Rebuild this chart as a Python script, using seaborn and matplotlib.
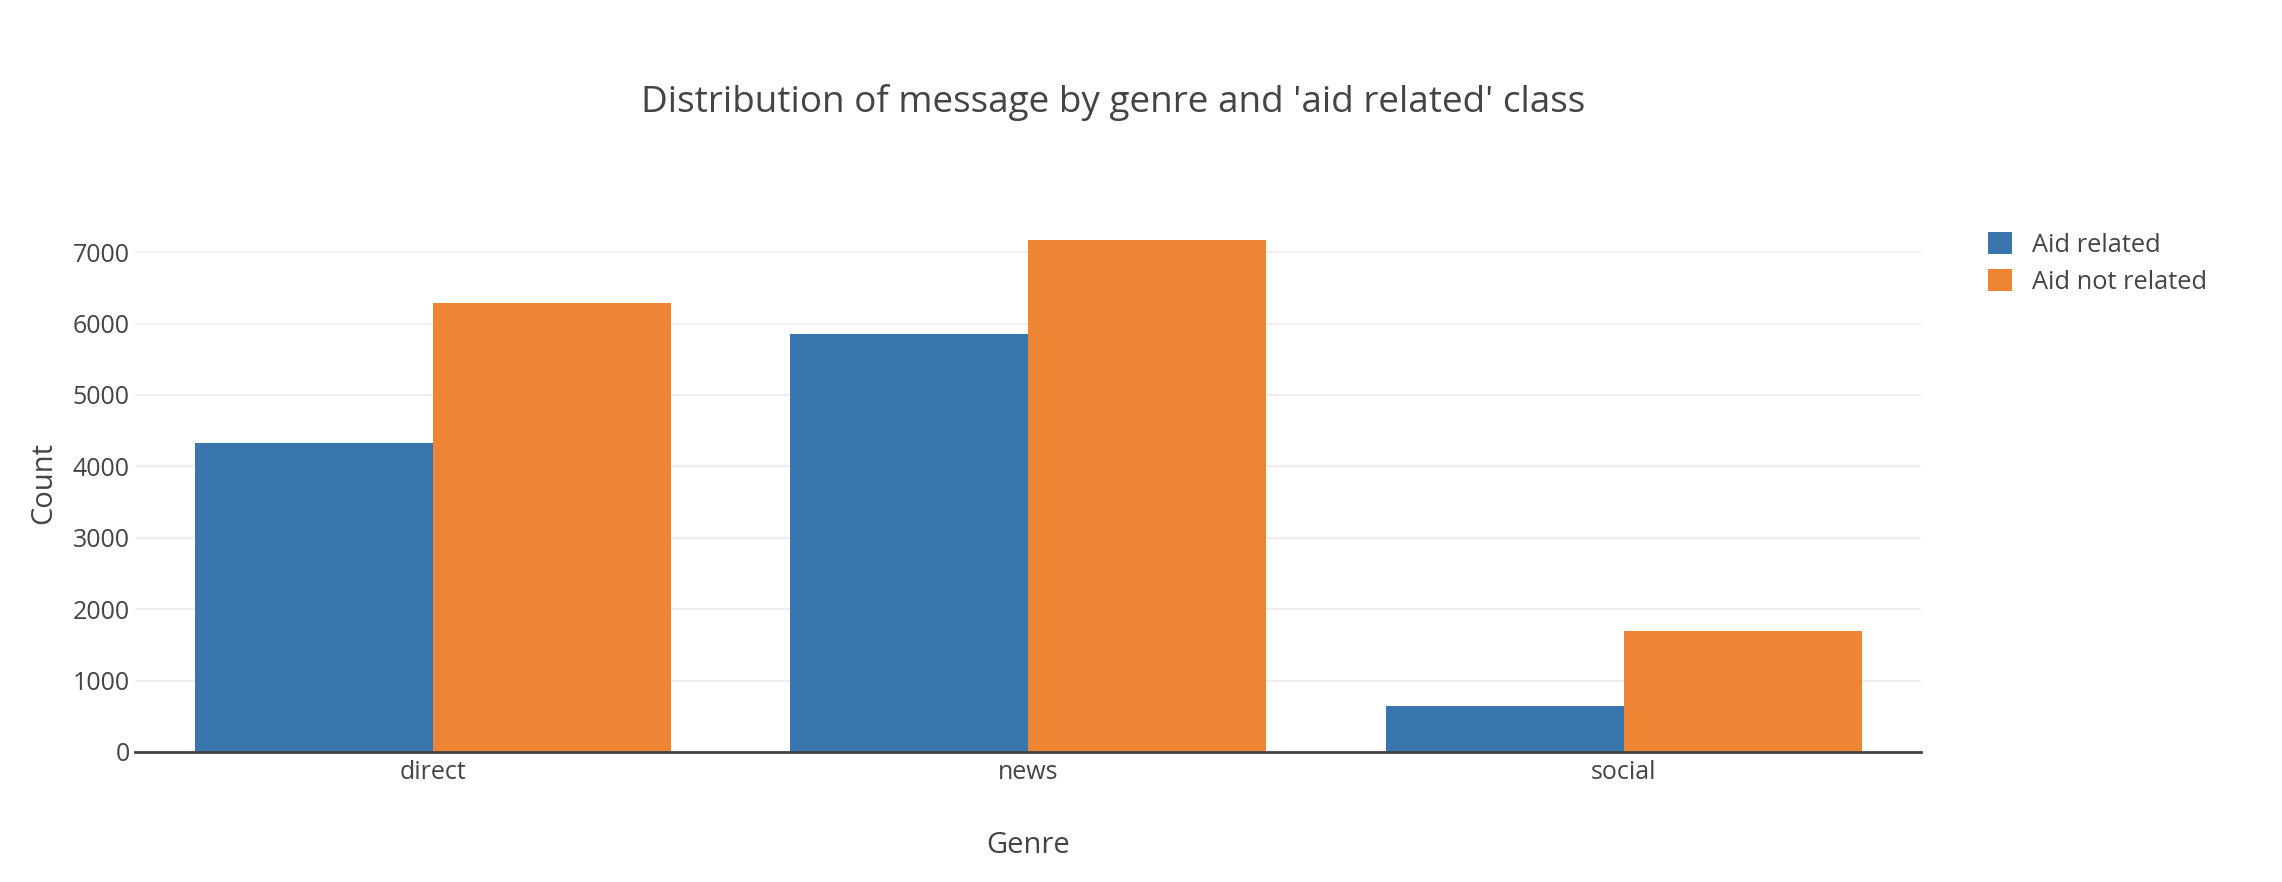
import pandas as pd
import matplotlib
matplotlib.use("Agg")
import matplotlib.pyplot as plt
import seaborn as sns

# data
genres = ['direct', 'news', 'social']
aid_related = [4330, 5850, 650]
aid_not_related = [6290, 7170, 1690]
classes = ['Aid related', 'Aid not related']

df = pd.DataFrame({
    'Genre': genres * 2,
    'Count': aid_related + aid_not_related,
    'Class': [classes[0]] * 3 + [classes[1]] * 3,
})

sns.set_theme(style="white")
plt.rcParams['font.family'] = ['Open Sans', 'DejaVu Sans']
text_color = '#444444'

fig = plt.figure(figsize=(22.82, 8.82), dpi=100)
ax = fig.add_axes([0.0592, 0.1474, 0.7828, 0.6096])

palette = {'Aid related': '#3a76ae', 'Aid not related': '#ee8535'}
sns.barplot(data=df, x='Genre', y='Count', hue='Class', hue_order=classes,
            palette=palette, saturation=1, ax=ax, errorbar=None, width=0.8,
            linewidth=0)

ax.set_ylim(0, 7530)
ax.set_yticks(range(0, 8000, 1000))
ax.yaxis.grid(True, color='#eeeeee', linewidth=1.5)
ax.set_axisbelow(True)
for side in ['top', 'right', 'left']:
    ax.spines[side].set_visible(False)
ax.spines['bottom'].set_color('#444444')
ax.spines['bottom'].set_linewidth(2)
ax.tick_params(axis='both', length=0, labelsize=18, colors=text_color)
ax.tick_params(axis='x', pad=6)
ax.tick_params(axis='y', pad=4)

ax.set_xlabel('Genre', fontsize=21, color=text_color, labelpad=33)
ax.set_ylabel('Count', fontsize=21, color=text_color, labelpad=10)

fig.suptitle("Distribution of message by genre and 'aid related' class",
             x=0.488, y=0.884, va='center', fontsize=26.6, color=text_color)

ax.legend(loc='upper left', bbox_to_anchor=(0.861, 0.763), bbox_transform=fig.transFigure,
          frameon=False, fontsize=18.3, handlelength=0.95, handleheight=0.95,
          labelspacing=0.45, handletextpad=0.8, labelcolor=text_color)

fig.savefig('out.png', dpi=100)
